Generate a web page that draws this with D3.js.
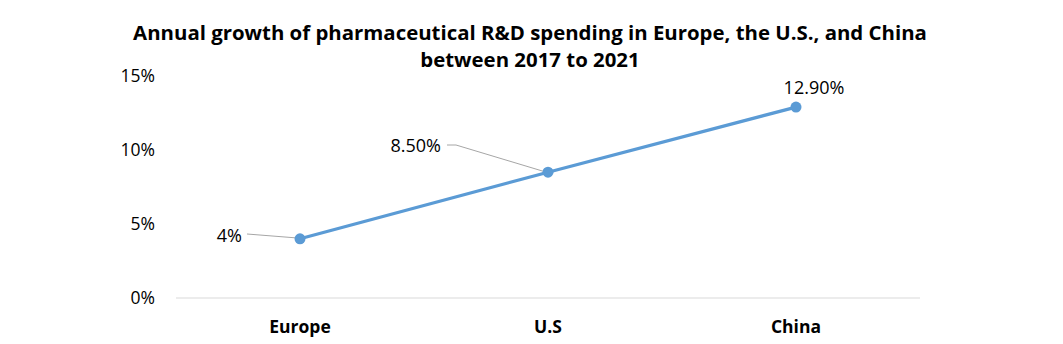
<!DOCTYPE html>
<html><head><meta charset="utf-8">
<script src="https://cdn.jsdelivr.net/npm/d3@7"></script>
<style>body{margin:0;background:#fff;} svg{display:block;}</style>
</head><body>
<svg id="c" width="1063" height="344"></svg>
<script>
const categories = ["Europe", "U.S", "China"];
const values = [4, 8.5, 12.9];
const valueLabels = ["4%", "8.50%", "12.90%"];
const yTicks = [0, 5, 10, 15];
const titleLines = ["Annual growth of pharmaceutical R&D spending in Europe, the U.S., and China", "between 2017 to 2021"];

const svg = d3.select("#c");
const font = "'Open Sans', 'Noto Sans', sans-serif";
const mLeft = 176, mRight = 920, mTop = 76, mBottom = 298;
const x = d3.scaleBand().domain(categories).range([mLeft, mRight]);
const y = d3.scaleLinear().domain([0, 15]).range([mBottom, mTop]);
const cx = d => x(d) + x.bandwidth() / 2;

// title
const t = svg.append("g");
titleLines.forEach((s, i) => {
  t.append("text").attr("x", 530).attr("y", 40 + i * 27).attr("text-anchor", "middle")
    .attr("font-family", font).attr("font-weight", 700).attr("font-size", 20.4)
    .attr("fill", "#000").text(s);
});

// baseline
svg.append("line").attr("x1", mLeft).attr("x2", mRight).attr("y1", y(0)).attr("y2", y(0))
  .attr("stroke", "#d9d9d9").attr("stroke-width", 1);

// y tick labels
svg.append("g").selectAll("text").data(yTicks).join("text")
  .attr("x", 155).attr("y", d => y(d)).attr("dy", "0.35em").attr("text-anchor", "end")
  .attr("font-family", font).attr("font-size", 17.5).attr("fill", "#000")
  .text(d => d + "%");

// x labels
svg.append("g").selectAll("text").data(categories).join("text")
  .attr("x", d => cx(d)).attr("y", 333).attr("text-anchor", "middle")
  .attr("font-family", font).attr("font-weight", 700).attr("font-size", 17.5).attr("fill", "#000")
  .text(d => d);

const pts = categories.map((c, i) => ({c, v: values[i], l: valueLabels[i]}));

// leader lines
const lead = [
  [[247, 234], null],
  [[447, 145], [456, 145]],
  null
];
pts.forEach((p, i) => {
  if (!lead[i]) return;
  const coords = [lead[i][0]];
  if (lead[i][1]) coords.push(lead[i][1]);
  coords.push([cx(p.c) - 5, y(p.v) - 1]);
  svg.append("path").attr("d", d3.line()(coords)).attr("fill", "none")
    .attr("stroke", "#a6a6a6").attr("stroke-width", 1);
});

// line
svg.append("path").datum(pts)
  .attr("d", d3.line().x(d => cx(d.c)).y(d => y(d.v)))
  .attr("fill", "none").attr("stroke", "#5b9bd5").attr("stroke-width", 3.2);
svg.append("g").selectAll("circle").data(pts).join("circle")
  .attr("cx", d => cx(d.c)).attr("cy", d => y(d.v)).attr("r", 5.5).attr("fill", "#5b9bd5");

// data labels
const lp = [
  {x: 242, y: 236, a: "end"},
  {x: 441, y: 146, a: "end"},
  {x: 814, y: 88, a: "middle"}
];
pts.forEach((p, i) => {
  svg.append("text").attr("x", lp[i].x).attr("y", lp[i].y).attr("dy", "0.35em")
    .attr("text-anchor", lp[i].a).attr("font-family", font).attr("font-size", 18)
    .attr("fill", "#000").text(p.l);
});
</script>
</body></html>
